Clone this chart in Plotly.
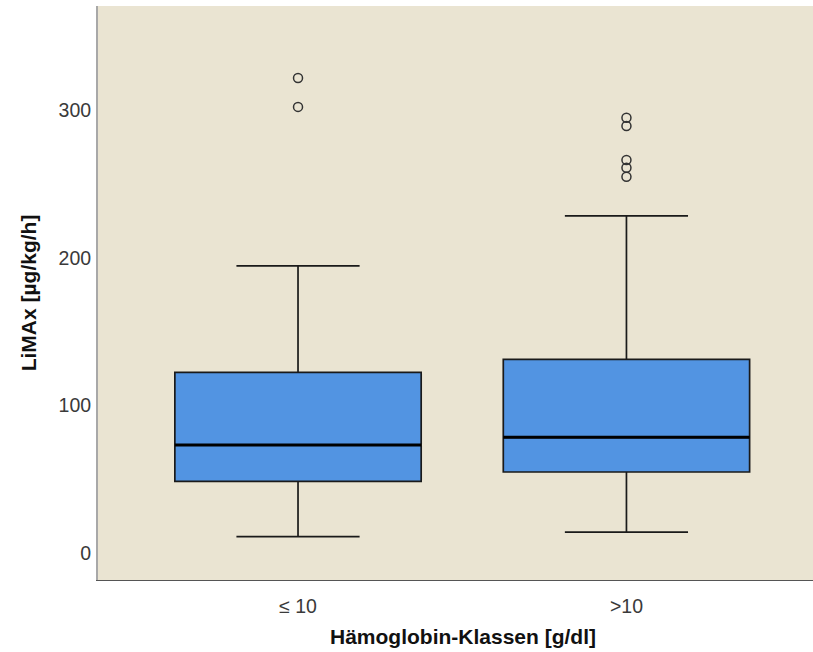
import plotly.graph_objects as go

# Hemoglobin classes and LiMAx summary statistics (µg/kg/h)
categories = ["≤ 10", ">10"]
lower_whisker = [11.1, 14.2]
q1_values = [48.6, 54.9]
medians = [73.2, 78.4]
q3_values = [122.5, 131.3]
upper_whisker = [194.6, 228.5]
outliers = [
    [302.4, 322.0],
    [255.1, 261.2, 266.4, 289.5, 295.1],
]

positions = list(range(len(categories)))
box_width = 0.75
box_fill = "#5294E2"
plot_bg = "#EAE4D2"

fig = go.Figure()

fig.add_trace(go.Box(
    x=positions,
    q1=q1_values,
    median=medians,
    q3=q3_values,
    lowerfence=lower_whisker,
    upperfence=upper_whisker,
    width=box_width,
    whiskerwidth=0.5,
    fillcolor=box_fill,
    line=dict(color="#1a1a1a", width=1.7),
    boxpoints=False,
    showlegend=False,
    hoverinfo="skip",
))

# thicker median bars
for pos, med in zip(positions, medians):
    fig.add_trace(go.Scatter(
        x=[pos - box_width / 2, pos + box_width / 2],
        y=[med, med],
        mode="lines",
        line=dict(color="#000000", width=3),
        showlegend=False,
        hoverinfo="skip",
    ))

# outliers as open circles
for pos, vals in zip(positions, outliers):
    fig.add_trace(go.Scatter(
        x=[pos] * len(vals),
        y=vals,
        mode="markers",
        marker=dict(symbol="circle-open", size=9, color="#333333",
                    line=dict(width=1.5, color="#333333")),
        showlegend=False,
        hoverinfo="skip",
    ))

fig.update_layout(
    width=813,
    height=652,
    margin=dict(l=98, r=0, t=6, b=72),
    paper_bgcolor="white",
    plot_bgcolor=plot_bg,
    font=dict(family="Liberation Sans, Arial, sans-serif", size=19.5, color="#3a3a3a"),
    xaxis=dict(
        range=[-0.609, 1.568],
        tickvals=positions,
        ticktext=categories,
        showgrid=False,
        zeroline=False,
        showline=True,
        linecolor="#555555",
        linewidth=1,
        ticks="outside",
        ticklen=9,
        tickcolor="rgba(0,0,0,0)",
    ),
    yaxis=dict(
        range=[-18.3, 370.8],
        tickvals=[0, 100, 200, 300],
        showgrid=False,
        zeroline=False,
        showline=True,
        linecolor="#A8A8A8",
        linewidth=2,
        ticks="outside",
        ticklen=1,
        tickcolor="rgba(0,0,0,0)",
        title=dict(text="LiMAx [µg/kg/h]",
                   font=dict(size=21, color="#111111", weight="bold"),
                   standoff=16),
    ),
    annotations=[dict(
        text="Hämoglobin-Klassen [g/dl]",
        xref="paper", yref="paper",
        x=0.511, y=-0.0976,
        xanchor="center", yanchor="middle",
        showarrow=False,
        font=dict(size=21, color="#111111", weight="bold"),
    )],
)

fig.write_html("out.html")
